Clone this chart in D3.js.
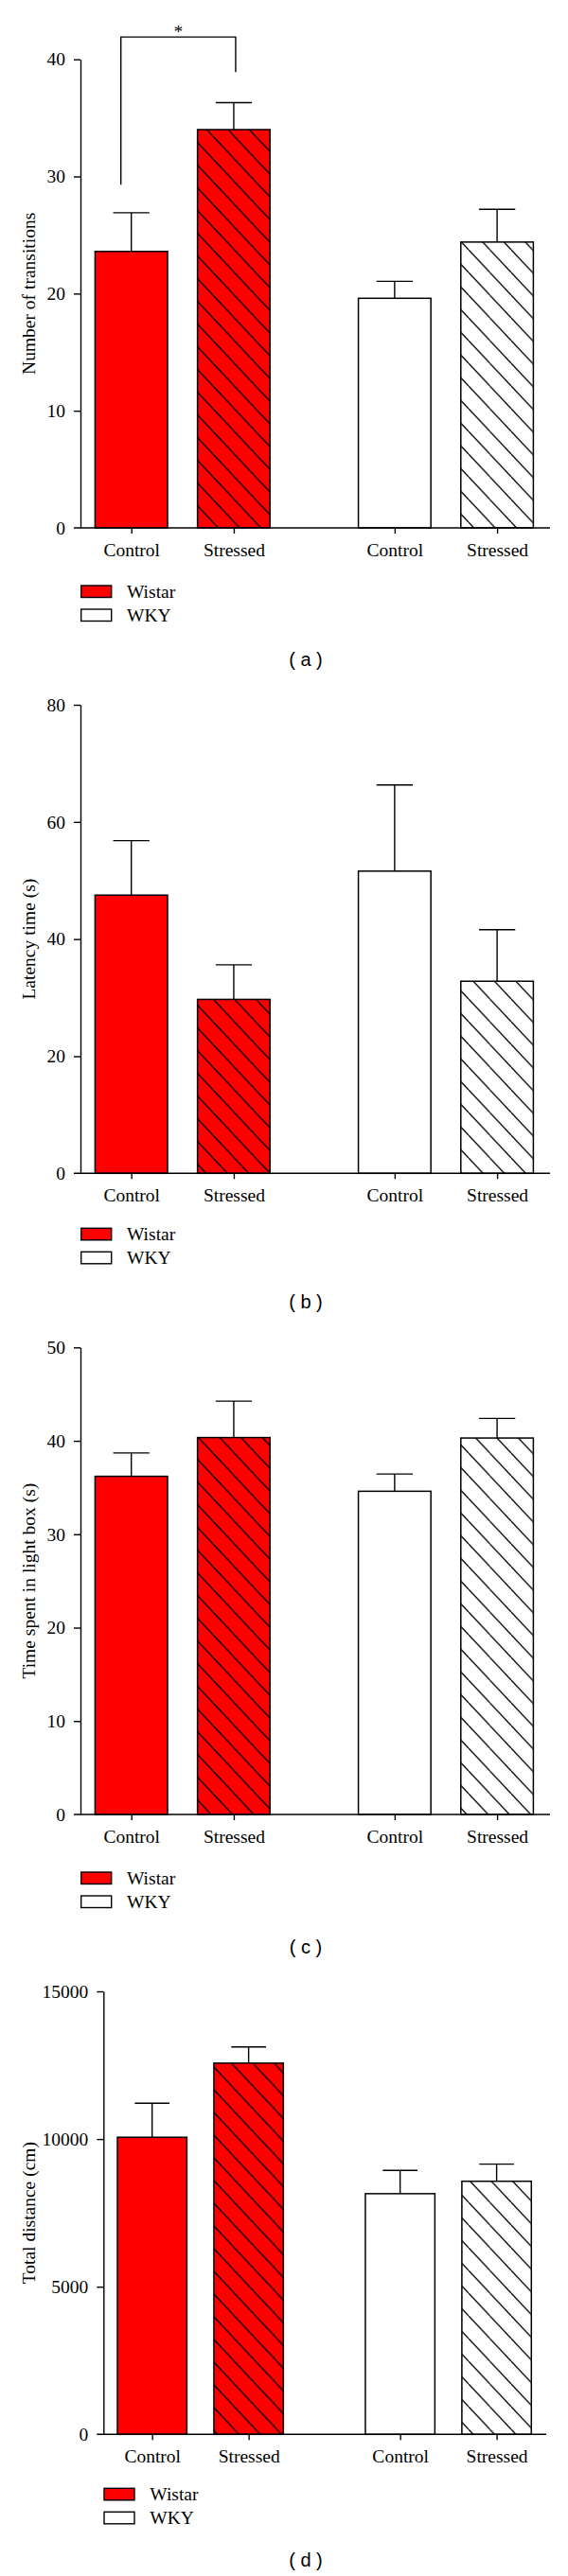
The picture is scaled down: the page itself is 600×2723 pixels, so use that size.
<!DOCTYPE html>
<html>
<head>
<meta charset="utf-8">
<script src="https://cdn.jsdelivr.net/npm/d3@7"></script>
<style>
  html, body { margin: 0; padding: 0; background: #fff; }
  svg { display: block; }
</style>
</head>
<body>
<svg id="chart" width="600" height="2723"></svg>
<script>
// ---------------- DATA ----------------
const categories = ["Control", "Stressed", "Control", "Stressed"];
const strains = ["Wistar", "Wistar", "WKY", "WKY"];
const legendLabels = ["Wistar", "WKY"];

const transitionsMean = [23.6, 34.0, 19.6, 24.4];
const transitionsErr  = [3.3, 2.3, 1.45, 2.8];
const transitionsTicks = [0, 10, 20, 30, 40];

const latencyMean = [47.5, 29.7, 51.6, 32.8];
const latencyErr  = [9.3, 5.9, 14.7, 8.8];
const latencyTicks = [0, 20, 40, 60, 80];

const lightBoxMean = [36.2, 40.35, 34.6, 40.3];
const lightBoxErr  = [2.5, 3.9, 1.85, 2.1];
const lightBoxTicks = [0, 10, 20, 30, 40, 50];

const distanceMean = [10060, 12570, 8150, 8570];
const distanceErr  = [1150, 550, 790, 580];
const distanceTicks = [0, 5000, 10000, 15000];

const yLabels = ["Number of transitions", "Latency time (s)", "Time spent in light box (s)", "Total distance (cm)"];
const panelLetters = ["a", "b", "c", "d"];

// significance bracket (panel a): between bar 0 and bar 1, values in data units
const sigLabel = "*";
const sigTop = 41.9, sigLeftEnd = 29.3, sigRightEnd = 38.9;

// ---------------- LAYOUT ----------------
const serif = "'Liberation Serif', 'Times New Roman', serif";
const sans = "'Liberation Sans', Arial, sans-serif";
const fs = 19.5;
const slots = [0, 1, 2.57, 3.57];

const panels = [
  {mean: transitionsMean, err: transitionsErr, ticks: transitionsTicks, top: 62.7, bottom: 558, axisX: 85, c0: 138.7, c3: 525.1, barW: 76.6, axisEnd: 581, legendDy: 61, letterY: 704, sig: true},
  {mean: latencyMean, err: latencyErr, ticks: latencyTicks, top: 745, bottom: 1240.3, axisX: 85, c0: 138.7, c3: 525.1, barW: 76.6, axisEnd: 581, legendDy: 58, letterY: 1383},
  {mean: lightBoxMean, err: lightBoxErr, ticks: lightBoxTicks, top: 1424.3, bottom: 1918, axisX: 85, c0: 138.7, c3: 525.1, barW: 76.6, axisEnd: 581, legendDy: 61, letterY: 2065},
  {mean: distanceMean, err: distanceErr, ticks: distanceTicks, top: 2105, bottom: 2573.3, axisX: 109.3, c0: 160.7, c3: 524.6, barW: 73.4, axisEnd: 577, legendDy: 57, letterY: 2713}
];

const svg = d3.select("#chart");
const defs = svg.append("defs");

function hatch(id, bg) {
  const w = 22.5, h = 24;
  const p = defs.append("pattern").attr("id", id)
    .attr("patternUnits", "userSpaceOnUse").attr("width", w).attr("height", h);
  p.append("rect").attr("width", w).attr("height", h).attr("fill", bg);
  p.append("path")
    .attr("d", `M0,0L${w},${h}M${w},0L${2*w},${h}M${-w},0L0,${h}`)
    .attr("stroke", "#000").attr("stroke-width", 1.3).attr("fill", "none");
}
hatch("hatchRed", "#ff0000");
hatch("hatchWhite", "#ffffff");

function fillFor(i) {
  const red = strains[i] === "Wistar";
  const stressed = categories[i] === "Stressed";
  if (stressed) return red ? "url(#hatchRed)" : "url(#hatchWhite)";
  return red ? "#ff0000" : "#ffffff";
}

panels.forEach((P, pi) => {
  const g = svg.append("g");
  const y = d3.scaleLinear().domain([0, d3.max(P.ticks)]).range([P.bottom, P.top]);
  const x = d3.scaleLinear().domain([0, slots[3]]).range([P.c0, P.c3]);

  // bars
  g.selectAll("rect.bar").data(P.mean).join("rect")
    .attr("class", "bar")
    .attr("x", (d, i) => x(slots[i]) - P.barW / 2)
    .attr("y", d => y(d))
    .attr("width", P.barW)
    .attr("height", d => y(0) - y(d))
    .attr("fill", (d, i) => fillFor(i))
    .attr("stroke", "#000").attr("stroke-width", 1.5);

  // error bars
  const capW = P.barW * 0.5;
  P.mean.forEach((m, i) => {
    const cx = x(slots[i]);
    g.append("line").attr("x1", cx).attr("x2", cx)
      .attr("y1", y(m)).attr("y2", y(m + P.err[i]))
      .attr("stroke", "#000").attr("stroke-width", 1.4);
    g.append("line").attr("x1", cx - capW / 2).attr("x2", cx + capW / 2)
      .attr("y1", y(m + P.err[i])).attr("y2", y(m + P.err[i]))
      .attr("stroke", "#000").attr("stroke-width", 1.4);
  });

  // y axis
  const ya = g.append("g").attr("transform", `translate(${P.axisX},0)`)
    .call(d3.axisLeft(y).tickValues(P.ticks).tickSize(7).tickSizeOuter(0).tickPadding(9).tickFormat(d3.format("d")));
  ya.select(".domain").attr("stroke", "#000").attr("stroke-width", 1.4);
  ya.selectAll(".tick line").attr("stroke", "#000").attr("stroke-width", 1.4);
  ya.selectAll(".tick text").attr("font-family", serif).attr("font-size", fs).attr("fill", "#000");
  ya.selectAll(".tick").filter(d => d === 0).select("line").remove();

  // x axis
  const xa = g.append("g").attr("transform", `translate(0,${P.bottom})`)
    .call(d3.axisBottom(x).tickValues(slots).tickSize(6).tickSizeOuter(0).tickPadding(10)
      .tickFormat((d, i) => categories[i]));
  xa.select(".domain").remove();
  xa.selectAll(".tick line").attr("stroke", "#000").attr("stroke-width", 1.4);
  xa.selectAll(".tick text").attr("font-family", serif).attr("font-size", fs).attr("fill", "#000");
  g.append("line").attr("x1", P.axisX - 7).attr("x2", P.axisEnd)
    .attr("y1", P.bottom).attr("y2", P.bottom)
    .attr("stroke", "#000").attr("stroke-width", 1.4);

  // y label
  g.append("text")
    .attr("transform", `translate(30,${(P.top + P.bottom) / 2}) rotate(-90)`)
    .attr("text-anchor", "middle").attr("dominant-baseline", "central")
    .attr("font-family", serif).attr("font-size", fs).attr("fill", "#000")
    .text(yLabels[pi]);

  // significance
  if (P.sig) {
    const lx = x(slots[0]) - 11, rx = x(slots[1]) + 2;
    g.append("path")
      .attr("d", `M${lx},${y(sigLeftEnd)}V${y(sigTop)}H${rx}V${y(sigRightEnd)}`)
      .attr("fill", "none").attr("stroke", "#000").attr("stroke-width", 1.4);
    g.append("text").attr("x", (lx + rx) / 2).attr("y", y(sigTop) + 0.5)
      .attr("text-anchor", "middle").attr("font-family", serif).attr("font-size", fs)
      .text(sigLabel);
  }

  // legend
  legendLabels.forEach((lab, li) => {
    const ly = P.bottom + P.legendDy + li * 25;
    g.append("rect").attr("x", P.axisX + 0.7).attr("y", ly).attr("width", 32).attr("height", 12.5)
      .attr("fill", li === 0 ? "#ff0000" : "#ffffff").attr("stroke", "#000").attr("stroke-width", 1.4);
    g.append("text").attr("x", P.axisX + 49).attr("y", ly + 12.5)
      .attr("font-family", serif).attr("font-size", fs).attr("fill", "#000").text(lab);
  });

  // panel letter
  g.append("text").attr("x", 323).attr("y", P.letterY).attr("text-anchor", "middle")
    .attr("font-family", sans).attr("font-size", 20).attr("fill", "#000")
    .attr("xml:space", "preserve").style("white-space", "pre")
    .text(`( ${panelLetters[pi]} )`);
});
</script>
</body>
</html>
